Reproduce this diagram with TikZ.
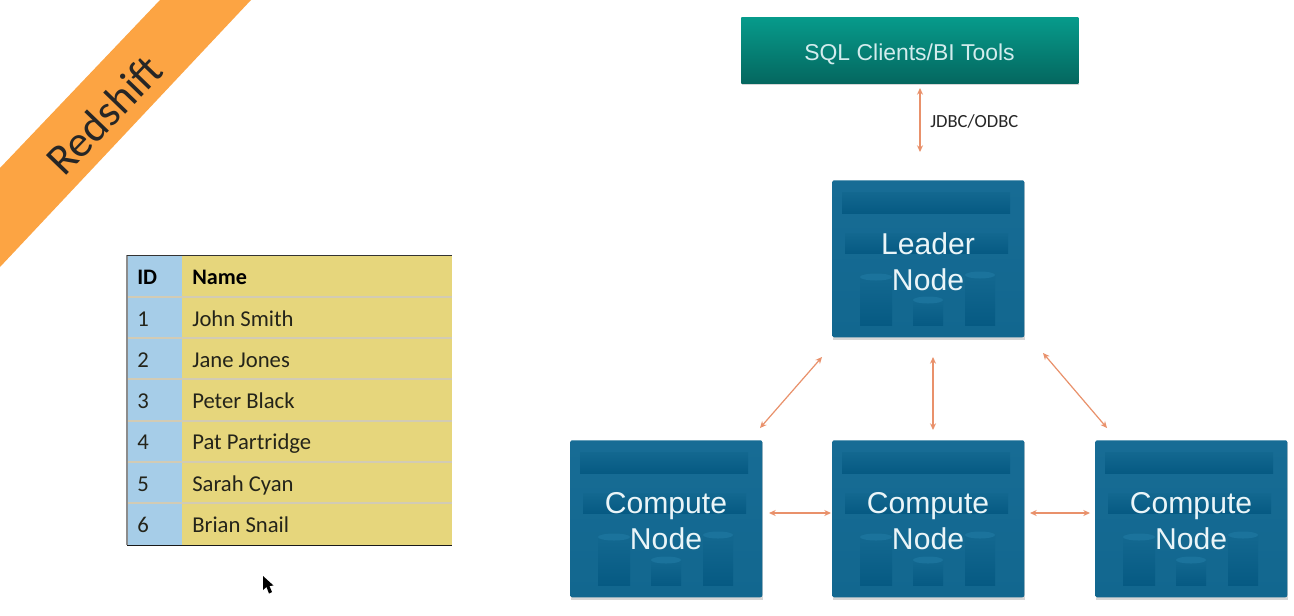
\documentclass[tikz,border=0pt]{standalone}
\usepackage{fontspec}
\setmainfont{Liberation Sans}
\newfontfamily\carlito{Carlito}
\usetikzlibrary{arrows.meta,shapes.geometric,calc}
\definecolor{boxblue}{HTML}{12678F}
\definecolor{boxtop}{HTML}{176C95}
\definecolor{barlo}{HTML}{065A83}
\definecolor{barhi}{HTML}{136890}
\definecolor{cyltop}{HTML}{1B739C}
\definecolor{tealtop}{HTML}{069B8B}
\definecolor{tealbot}{HTML}{05675F}
\definecolor{arrowc}{HTML}{E9916B}
\definecolor{bannerc}{HTML}{FCA443}
\definecolor{idblue}{HTML}{A6CDE8}
\definecolor{nameyel}{HTML}{E6D67C}
\definecolor{rowline}{HTML}{D2CBB4}
\definecolor{nodetxt}{HTML}{EAF5F8}
\definecolor{tabletxt}{HTML}{24241A}
\tikzset{
  x=0.75pt,y=-0.75pt,
  shadowrect/.style={fill=black,fill opacity=0.16,draw=none},
  nodebox/.style={draw=none,top color=boxtop,bottom color=boxblue,rounded corners=1.5pt,minimum width=144pt,minimum height=117.75pt,inner sep=0pt},
  nodelabel/.style={text=nodetxt,font=\fontsize{22.6}{27}\selectfont,align=center,inner sep=0pt},
  innerbar/.style={top color=barhi,bottom color=barlo,draw=none},
  link/.style={draw=arrowc,line width=0.9pt,{Stealth[length=5pt,width=4.5pt]}-{Stealth[length=5pt,width=4.5pt]}},
  celltext/.style={anchor=base west,inner sep=0pt,text=tabletxt,font=\carlito\fontsize{17}{20}\selectfont},
  headtext/.style={anchor=base west,inner sep=0pt,text=black,font=\carlito\bfseries\fontsize{16.6}{20}\selectfont}
}
% #1 name, #2 left x, #3 top y, #4 label
\newcommand{\awsnode}[4]{%
  \fill[shadowrect] (#2+1,#3+2) rectangle (#2+193,#3+160);
  \node[nodebox,anchor=north west] (#1) at (#2,#3) {};
  \fill[innerbar] (#2+10,#3+12) rectangle (#2+178,#3+33);
  \fill[innerbar] (#2+13,#3+53) rectangle (#2+176,#3+73);
  \foreach \cx/\cw/\ctop in {28/32/97,81/30/120,133/30/95}{
    \fill[innerbar] (#2+\cx,#3+\ctop) rectangle (#2+\cx+\cw,#3+145);
    \fill[cyltop] (#2+\cx+0.5*\cw,#3+\ctop) ellipse [x radius=0.5*\cw,y radius=3.5];
  }
  \node[nodelabel] (#1label) at (#2+96,#3+81.5) {#4};
}
\begin{document}
\begin{tikzpicture}
\useasboundingbox (0,0) rectangle (1294,615);
\fill[white] (0,0) rectangle (1294,615);

% banner
\fill[bannerc] (0,168) -- (160,0) -- (251,0) -- (0,267) -- cycle;
\node[rotate=46,text=black!85,inner sep=0pt,font=\carlito\fontsize{33}{36}\selectfont] (banner) at (104,115) {Redshift};

% table
\fill[idblue] (127,255) rectangle (182,545);
\fill[nameyel] (182,255) rectangle (452,545);
\foreach \ry in {297,338,379,421,462,503}{
  \draw[rowline,line width=0.9pt] (127,\ry) -- (452,\ry);
}
\draw[black!45,line width=0.9pt] (127,255) -- (127,545);
\draw[black!80,line width=0.6pt] (127,255) -- (452,255);
\draw[black!90,line width=0.7pt] (127,545) -- (452,545);
\node[headtext] (hid) at (137,284) {ID};
\node[headtext] (hname) at (192,284) {Name};
\foreach \n/\by/\who in {1/326/John Smith,2/367/Jane Jones,3/408/Peter Black,4/449/Pat Partridge,5/491/Sarah Cyan,6/532/Brian Snail}{
  \node[celltext] (id\n) at (137,\by) {\n};
  \node[celltext] (name\n) at (192,\by) {\who};
}

% cursor
\fill[black] (263,576) -- (263,590) -- (266.5,587) -- (269,593.5) -- (272,592) -- (269.5,586) -- (273.5,585.5) -- cycle;

% SQL box
\fill[shadowrect] (742,19) rectangle (1079,85);
\node[draw=none,top color=tealtop,bottom color=tealbot,minimum width=252.75pt,minimum height=49.5pt,inner sep=0pt,anchor=north west] (sql) at (741,17) {};
\node[inner sep=0pt,text=nodetxt!90!tealtop,font=\fontsize{17.2}{20}\selectfont] (sqllabel) at (909.5,54.5) {SQL Clients/BI Tools};

% nodes
\awsnode{leader}{832}{180}{Leader\\Node}
\awsnode{computeA}{570}{440}{Compute\\Node}
\awsnode{computeB}{832}{440}{Compute\\Node}
\awsnode{computeC}{1095}{440}{Compute\\Node}

% connector ends
\coordinate (a1) at (920,88);   \coordinate (a2) at (920,152);
\coordinate (b1) at (822,357);  \coordinate (b2) at (760,428);
\coordinate (c1) at (933,357);  \coordinate (c2) at (933,430);
\coordinate (d1) at (1043,353); \coordinate (d2) at (1107,428);
\coordinate (e1) at (769,513);  \coordinate (e2) at (831,513);
\coordinate (f1) at (1030,513); \coordinate (f2) at (1090,513);
\draw[link] (a1) -- (a2);
\draw[link] (b1) -- (b2);
\draw[link] (c1) -- (c2);
\draw[link] (d1) -- (d2);
\draw[link] (e1) -- (e2);
\draw[link] (f1) -- (f2);
\node[anchor=base west,inner sep=0pt,text=black!85,font=\carlito\fontsize{13.9}{16}\selectfont] (jdbc) at (930,127) {JDBC/ODBC};
\end{tikzpicture}
\end{document}
